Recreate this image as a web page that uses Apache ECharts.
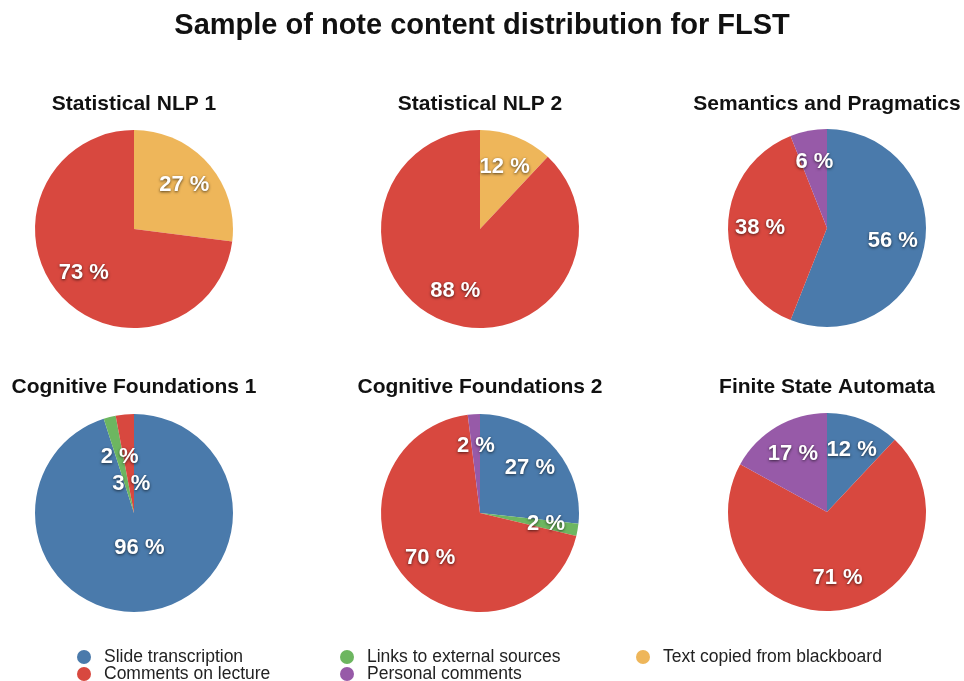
<!DOCTYPE html>
<html>
<head>
<meta charset="utf-8">
<script src="https://cdn.jsdelivr.net/npm/echarts@6/dist/echarts.min.js"></script>
<style>
  html, body { margin: 0; padding: 0; background: #fff; }
  #main { width: 964px; height: 681px; }
</style>
</head>
<body>
<div id="main"></div>
<script>
// categories
var categories = ['Slide transcription', 'Comments on lecture', 'Links to external sources', 'Personal comments', 'Text copied from blackboard'];
var catColors = ['#4a7aab', '#d8483f', '#6db660', '#975aa8', '#eeb65a'];

// one entry per pie, slices listed clockwise from 12 o'clock
var pieTitles = ['Statistical NLP 1', 'Statistical NLP 2', 'Semantics and Pragmatics',
                 'Cognitive Foundations 1', 'Cognitive Foundations 2', 'Finite State Automata'];
var pieNames = [
  ['Text copied from blackboard', 'Comments on lecture'],
  ['Text copied from blackboard', 'Comments on lecture'],
  ['Slide transcription', 'Comments on lecture', 'Personal comments'],
  ['Slide transcription', 'Links to external sources', 'Comments on lecture'],
  ['Slide transcription', 'Links to external sources', 'Comments on lecture', 'Personal comments'],
  ['Slide transcription', 'Comments on lecture', 'Personal comments']
];
var pieValues = [
  [27, 73],
  [12, 88],
  [56, 38, 6],
  [96, 2, 3],
  [27, 2, 70, 2],
  [12, 71, 17]
];

// layout
var R = 99;
var centers = [[134, 229], [480, 229], [827, 228], [134, 513], [480, 513], [827, 512]];
var titleTops = [94, 94, 94, 377, 377, 377];
var defaultRing = [29, 99];
// cognitive foundations 1 puts its labels at odd radii
var labelRings = {
  3: [[0, 64], [10, 100], [0, 52]]
};

var colorOf = function(name) { return catColors[categories.indexOf(name)]; };

var myChart = echarts.init(document.getElementById('main'));

var titles = [{
  text: 'Sample of note content distribution for FLST',
  left: 'center',
  top: 11,
  padding: 0,
  textStyle: { fontFamily: 'Liberation Sans', fontSize: 29, fontWeight: 'bold', color: '#111' }
}];
var series = [];

pieTitles.forEach(function(t, i) {
  titles.push({
    text: t,
    left: centers[i][0],
    top: titleTops[i],
    textAlign: 'center',
    padding: 0,
    textStyle: { fontFamily: 'Liberation Sans', fontSize: 21, fontWeight: 'bold', color: '#111' }
  });

  var data = pieNames[i].map(function(n, j) {
    return { name: n, value: pieValues[i][j], itemStyle: { color: colorOf(n) } };
  });

  series.push({
    type: 'pie',
    center: centers[i],
    radius: R,
    startAngle: 90,
    clockwise: true,
    silent: true,
    animation: false,
    label: { show: false },
    labelLine: { show: false },
    itemStyle: { borderWidth: 0 },
    data: data
  });

  // group items by label ring, one transparent series per ring
  var rings = labelRings[i] || pieNames[i].map(function() { return defaultRing; });
  var keys = [];
  rings.forEach(function(r) {
    var k = r.join('-');
    if (keys.indexOf(k) < 0) keys.push(k);
  });
  keys.forEach(function(k) {
    var ring = k.split('-').map(Number);
    series.push({
      type: 'pie',
      center: centers[i],
      radius: ring,
      startAngle: 90,
      clockwise: true,
      silent: true,
      animation: false,
      labelLine: { show: false },
      itemStyle: { color: 'rgba(0,0,0,0)', borderWidth: 0 },
      label: {
        show: true,
        position: 'inside',
        formatter: '{c} %',
        fontFamily: 'Liberation Sans',
        fontSize: 22,
        fontWeight: 'bold',
        color: '#fff',
        textShadowColor: 'rgba(0,0,0,0.65)',
        textShadowBlur: 3,
        textShadowOffsetY: 1
      },
      data: pieNames[i].map(function(n, j) {
        return {
          name: n,
          value: pieValues[i][j],
          label: { show: rings[j].join('-') === k }
        };
      })
    });
  });
});

var legendBase = function(left, names) {
  return {
    orient: 'vertical',
    left: left,
    top: 648,
    height: 40,
    itemWidth: 14,
    itemHeight: 14,
    itemGap: -1,
    icon: 'circle',
    selectedMode: false,
    padding: 0,
    textStyle: { fontFamily: 'Liberation Sans', fontSize: 17.5, lineHeight: 15, color: '#222', padding: [0, 0, 0, 8] },
    data: names.map(function(n) { return { name: n, itemStyle: { color: colorOf(n) } }; })
  };
};

myChart.setOption({
  backgroundColor: '#fff',
  title: titles,
  legend: [
    legendBase(77, ['Slide transcription', 'Comments on lecture']),
    legendBase(340, ['Links to external sources', 'Personal comments']),
    legendBase(636, ['Text copied from blackboard'])
  ],
  series: series
});
</script>
</body>
</html>
